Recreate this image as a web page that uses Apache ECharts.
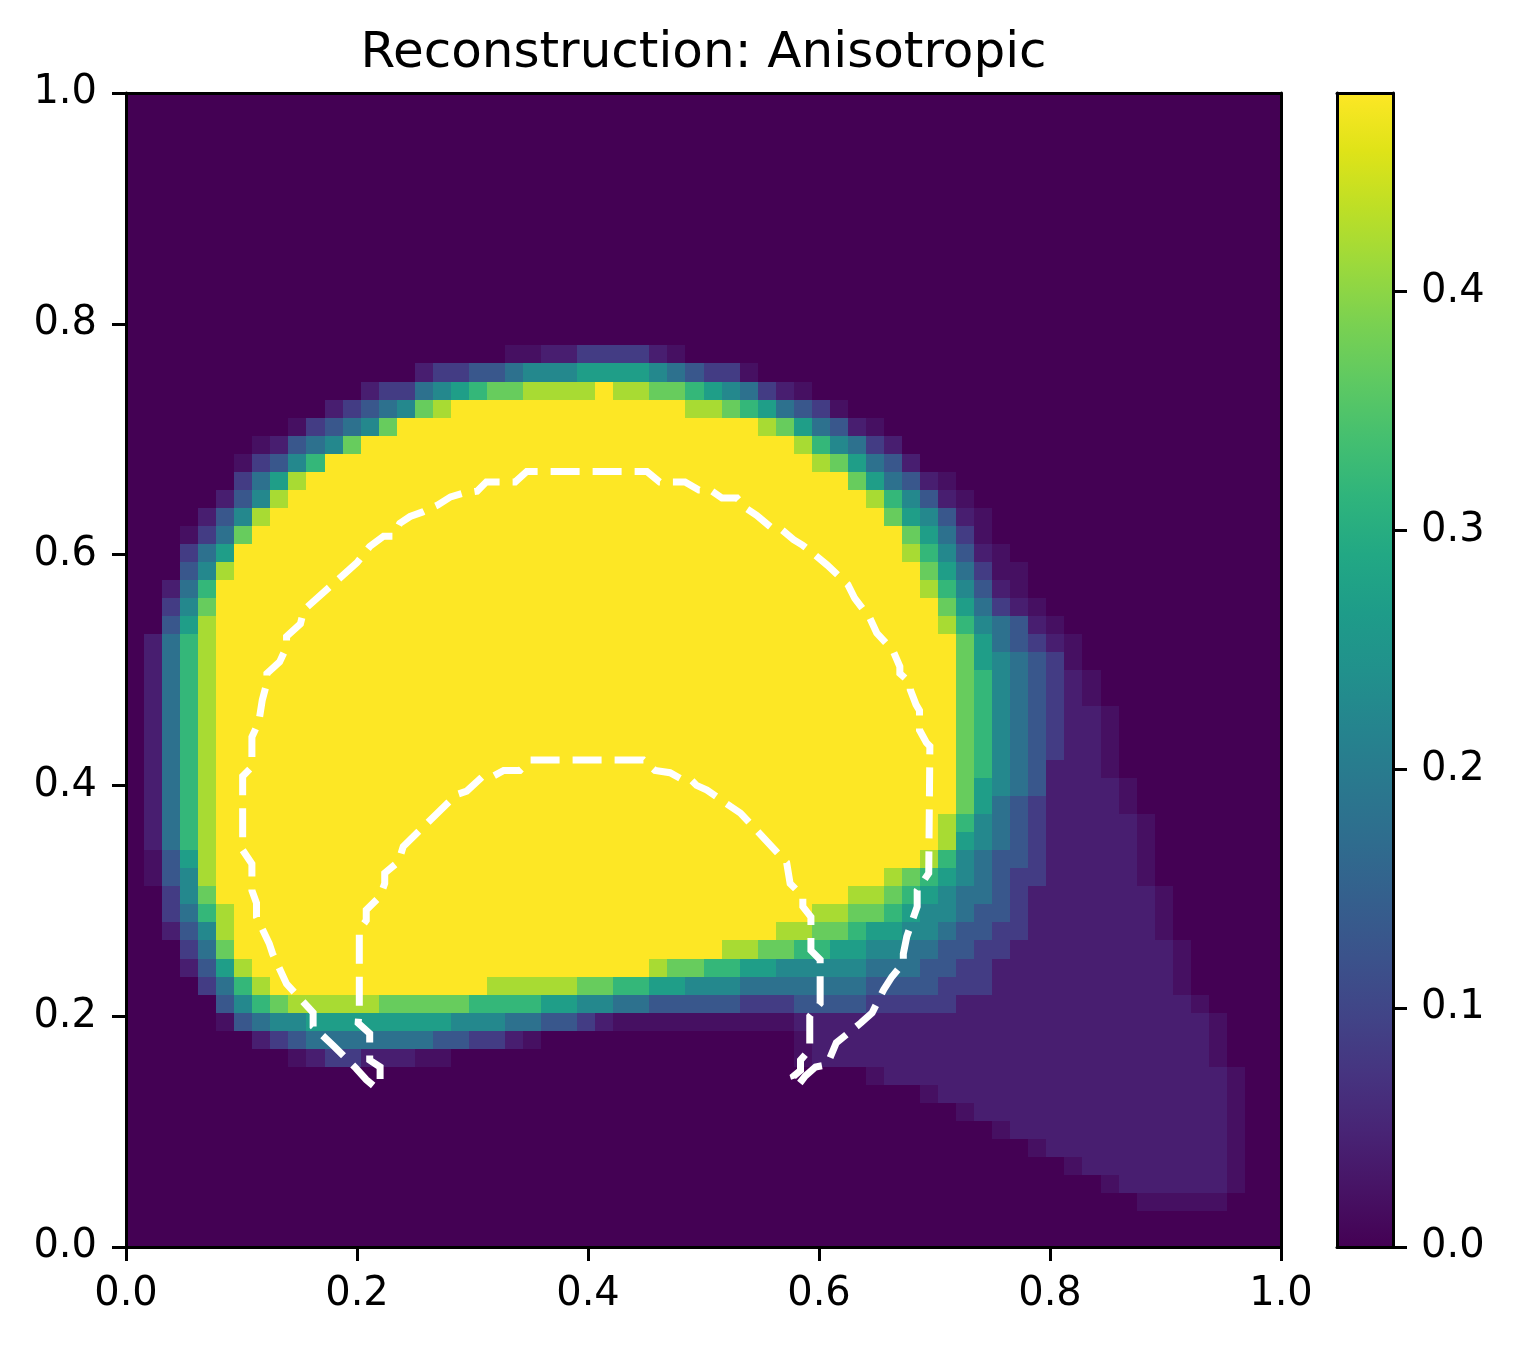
<!DOCTYPE html>
<html><head><meta charset="utf-8">
<script src="https://cdn.jsdelivr.net/npm/echarts@6/dist/echarts.min.js"></script>
<style>html,body{margin:0;padding:0;background:#fff}#c{width:1519px;height:1349px}</style>
</head><body><div id="c"></div>
<script>
const titleText = 'Reconstruction: Anisotropic';
const colorbarTicks = [0, 0.1, 0.2, 0.3, 0.4];
const colorMax = 0.483;
const viridis = ['#440154','#471365','#482475','#463480','#414487','#3b528b','#355f8d','#2f6c8e','#2a788e','#25848e','#21918c','#1e9c89','#22a884','#2fb47c','#44bf70','#5ec962','#7ad151','#9bd93c','#bddf26','#dfe318','#fde725'];

// value levels used in the grid rows (char -> value)
const levelChars  = ['0', 'h',  '1',  '2',   '3',  '4',  '5',   '6',  '7',  '8',  '9',  'A'];
const levelValues = [0,   0.02, 0.04, 0.085, 0.13, 0.18, 0.225, 0.27, 0.32, 0.37, 0.42, 0.483];

// 64 x 64 field, top row first, run-length tokens (char or char*count)
const gridRows = [
'0*64','0*64','0*64','0*64','0*64','0*64','0*64','0*64','0*64','0*64','0*64','0*64','0*64','0*64',
'0*21 h h 1 1 2 2 2 2 1 h 0*33',
'0*16 1 2 2 3 3 4 5 5 5 6 6 6 6 5 4 3 2 2 h 0*29',
'0*13 1 2 2 4 5 6 7 8 8 9 9 9 9 A 9 9 8 8 7 6 5 4 2 1 h 0*26',
'0*11 1 2 3 4 5 8 9 A*13 9 9 8 7 6 4 3 2 h 0*24',
'0*9 h 2 3 4 5 8 A*20 9 8 6 4 3 1 h 0*22',
'0*7 h 1 3 4 5 8 A*24 9 7 5 4 2 1 0*21',
'0*6 h 2 3 5 7 A*27 9 8 6 4 3 1 0*20',
'0*6 2 4 6 9 A*30 8 6 4 3 1 h 0*18',
'0*5 1 3 5 9 A*32 9 7 5 3 1 h 0*17',
'0*4 1 3 5 9 A*34 8 6 5 3 1 h 0*16',
'0*3 h 2 4 8 A*36 8 6 4 2 h 0*16',
'0*3 2 4 6 A*37 9 7 5 3 1 h 0*15',
'0*3 3 5 9 A*38 8 6 4 2 h h 0*14',
'0*2 1 4 7 A*39 9 7 5 3 1 h 0*14',
'0*2 2 5 8 A*40 8 6 4 2 1 h 0*13',
'0*2 3 6 9 A*40 9 7 5 4 3 1 h 0*12',
'0 1 4 7 9 A*41 8 6 4 3 2 1 h 0*11',
'0 1 4 7 9 A*41 8 6 5 4 3 2 h 0*11',
'0 1 4 7 9 A*41 8 7 5 4 3 2 1 h 0*10',
'0 1 4 7 9 A*41 8 7 5 4 3 2 1 h 0*10',
'0 1 4 7 9 A*41 8 7 5 4 3 2 1 1 h 0*9',
'0 1 4 7 9 A*41 8 7 5 4 3 2 1 1 h 0*9',
'0 1 4 7 9 A*41 8 7 5 4 3 2 1 1 h 0*9',
'0 1 4 7 9 A*41 8 7 5 4 3 1 1 1 h 0*9',
'0 1 4 7 9 A*41 8 6 5 4 3 1 1 1 1 h 0*8',
'0 1 4 7 9 A*41 8 6 4 3 2 1 1 1 1 h 0*8',
'0 1 4 7 9 A*40 9 7 5 4 3 2 1 1 1 1 1 h 0*7',
'0 1 4 7 9 A*40 9 6 5 4 3 2 1 1 1 1 1 h 0*7',
'0 h 3 6 9 A*39 9 7 5 4 3 3 2 1 1 1 1 1 h 0*7',
'0 h 3 5 9 A*37 9 8 7 6 5 4 3 2 2 1 1 1 1 1 h 0*7',
'0 0 2 5 8 A*35 9 9 8 7 6 5 4 4 3 2 1 1 1 1 1 1 1 h 0*6',
'0 0 2 4 7 9 A*32 9 9 8 8 7 6 5 5 4 3 3 2 1 1*6 h 0*6',
'0 0 1 3 5 9 A*30 9 9 8 8 7 6 6 5 5 4 3 3 2 2 1*7 h 0*6',
'0*3 2 4 8 A*27 9 9 8 8 7 7 6 6 5 5 4 4 3 3 2 2 1 1*8 h 0*5',
'0*3 1 3 6 9 A*22 9 8 8 7 7 6 6 5 5 5 5 5 4 4 4 3 3 2 2 1 1*9 h 0*5',
'0*4 2 4 7 9 A*12 9 9 9 9 9 8 8 7 7 6 6 5 5 5 4 4 4 4 4 4 4 3 3 3 3 2 2 2 1*10 h 0*5',
'0*5 3 5 7 8 9 9 9 9 9 8 8 8 8 8 7 7 7 7 6 6 5 5 4 4 3 3 3 3 3 2 2 2 3 3 3 3 2 2 2 2 2 1*13 h 0*4',
'0*5 h 3 4 5 5 6*8 5 5 5 4 4 3 3 2 1 h*10 1*23 h 0*3',
'0*7 1 2 3 4 4 4 4 4 4 4 3 3 2 2 1 h 0*14 h 1*22 h 0*3',
'0*9 h 1 2 2 1 1 1 h h 0*19 h 1*22 h 0*3',
'0*41 h 1*19 h 0*2',
'0*44 h 1*16 h 0*2',
'0*46 h 1*14 h 0*2',
'0*48 h 1*12 h 0*2',
'0*50 h 1*10 h 0*2',
'0*52 h 1*8 h 0*2',
'0*54 h 1*6 h 0*2',
'0*56 h*5 0*3',
'0*64','0*64'
];

// white dashed contour (closed horseshoe), data coordinates
const contourX = [0.214,0.208,0.199,0.180,0.162,0.162,0.139,0.127,0.124,0.113,
0.113,0.109,0.109,0.101,0.101,0.109,0.109,0.115,0.118,0.122,
0.122,0.133,0.139,0.139,0.151,0.154,0.200,0.211,0.223,0.231,
0.237,0.246,0.257,0.270,0.281,0.291,0.304,0.312,0.337,0.347,
0.451,0.462,0.484,0.496,0.506,0.516,0.529,0.537,0.546,0.558,
0.566,0.578,0.586,0.595,0.607,0.625,0.631,0.644,0.650,0.664,
0.670,0.670,0.679,0.679,0.684,0.687,0.687,0.693,0.696,0.695,
0.685,0.685,0.676,0.673,0.673,0.663,0.656,0.646,0.636,0.615,
0.607,0.597,0.588,0.581,0.578,0.584,0.584,0.592,0.592,0.601,
0.601,0.593,0.593,0.586,0.586,0.575,0.572,0.532,0.523,0.503,
0.494,0.488,0.480,0.471,0.458,0.448,0.350,0.341,0.327,0.318,
0.309,0.295,0.286,0.240,0.236,0.224,0.224,0.220,0.208,0.208,
0.202,0.202,0.201,0.211,0.211,0.220,0.220,0.214];
const contourY = [0.140,0.145,0.155,0.174,0.191,0.203,0.228,0.254,0.263,0.286,
0.298,0.309,0.332,0.344,0.408,0.416,0.442,0.455,0.474,0.489,
0.497,0.507,0.520,0.529,0.540,0.552,0.593,0.607,0.616,0.616,
0.627,0.633,0.637,0.643,0.650,0.653,0.655,0.663,0.663,0.672,
0.672,0.663,0.663,0.656,0.656,0.649,0.649,0.640,0.634,0.624,
0.623,0.613,0.608,0.601,0.591,0.574,0.562,0.545,0.532,0.517,
0.503,0.497,0.489,0.483,0.470,0.465,0.448,0.437,0.434,0.324,
0.309,0.295,0.269,0.254,0.246,0.234,0.223,0.203,0.194,0.177,
0.158,0.156,0.148,0.139,0.148,0.153,0.162,0.171,0.200,0.211,
0.249,0.257,0.286,0.295,0.304,0.315,0.333,0.376,0.382,0.396,
0.400,0.406,0.406,0.411,0.413,0.422,0.422,0.413,0.413,0.408,
0.408,0.395,0.392,0.347,0.334,0.324,0.315,0.304,0.292,0.283,
0.275,0.208,0.194,0.185,0.162,0.156,0.142,0.140];

// ---- build ----
const nRows = gridRows.length, nCols = 64;
function expandRow(s, r) {
  const out = [];
  s.trim().split(/\s+/).forEach(tok => {
    const parts = tok.split('*');
    const idx = levelChars.indexOf(parts[0]);
    const n = parts.length > 1 ? parseInt(parts[1], 10) : 1;
    for (let k = 0; k < n; k++) out.push(levelValues[idx]);
  });
  if (out.length !== nCols) throw new Error('row ' + r + ' has ' + out.length + ' cells');
  return out;
}
const cellW = 1 / nCols, cellH = 1 / nRows;
const cellData = [];
gridRows.forEach((s, r) => {
  const vals = expandRow(s, r);
  const i = nRows - 1 - r;
  vals.forEach((v, j) => cellData.push([(j + 0.5) * cellW, (i + 0.5) * cellH, v]));
});
const contourData = contourX.map((x, k) => [x, contourY[k]]);

function renderCell(params, api) {
  const x = api.value(0), y = api.value(1);
  const p0 = api.coord([x - cellW / 2, y + cellH / 2]);
  const p1 = api.coord([x + cellW / 2, y - cellH / 2]);
  const x0 = Math.round(p0[0]), y0 = Math.round(p0[1]);
  const x1 = Math.round(p1[0]), y1 = Math.round(p1[1]);
  return {type: 'rect', shape: {x: x0, y: y0, width: x1 - x0, height: y1 - y0},
    style: {fill: api.visual('color')}};
}

const FONT = 'DejaVu Sans';
const lbl = {fontSize: 40, color: '#000', fontFamily: FONT};
const lineOnly = {show: true, onZero: false, lineStyle: {color: '#000', width: 3}};
const tickStyle = {show: true, length: 14, lineStyle: {color: '#000', width: 3}};
const fmt = v => v.toFixed(1);

const chart = echarts.init(document.getElementById('c'), null, {renderer: 'canvas'});
chart.setOption({
  animation: false,
  backgroundColor: '#fff',
  title: {text: titleText, left: 698.5, top: 24, textAlign: 'center',
    textStyle: {fontSize: 50, fontWeight: 'normal', fontFamily: FONT, color: '#000'}},
  grid: [{left: 126, top: 93, width: 1155, height: 1154},
         {left: 1337, top: 93, width: 56, height: 1154}],
  visualMap: {type: 'continuous', show: false, min: 0, max: colorMax, seriesIndex: 0, dimension: 2,
    inRange: {color: viridis}},
  xAxis: [
    {gridIndex: 0, type: 'value', min: 0, max: 1, interval: 0.2, position: 'bottom', z: 10,
      axisLine: lineOnly, axisTick: tickStyle,
      axisLabel: Object.assign({margin: 28, formatter: fmt}, lbl), splitLine: {show: false}},
    {gridIndex: 0, type: 'value', min: 0, max: 1, position: 'top', z: 10,
      axisLine: lineOnly, axisTick: {show: false}, axisLabel: {show: false}, splitLine: {show: false}},
    {gridIndex: 1, type: 'category', data: [''], position: 'bottom', z: 10,
      axisLine: lineOnly, axisTick: {show: false}, axisLabel: {show: false}},
    {gridIndex: 1, type: 'category', data: [''], position: 'top', z: 10,
      axisLine: lineOnly, axisTick: {show: false}, axisLabel: {show: false}}
  ],
  yAxis: [
    {gridIndex: 0, type: 'value', min: 0, max: 1, interval: 0.2, position: 'left', z: 10,
      axisLine: lineOnly, axisTick: tickStyle,
      axisLabel: Object.assign({margin: 29, formatter: fmt}, lbl), splitLine: {show: false}},
    {gridIndex: 0, type: 'value', min: 0, max: 1, position: 'right', z: 10,
      axisLine: lineOnly, axisTick: {show: false}, axisLabel: {show: false}, splitLine: {show: false}},
    {gridIndex: 1, type: 'value', min: 0, max: colorMax, interval: 0.1, position: 'right', z: 10,
      axisLine: lineOnly,
      axisTick: Object.assign({customValues: colorbarTicks}, tickStyle),
      axisLabel: Object.assign({margin: 28, formatter: fmt, customValues: colorbarTicks}, lbl),
      splitLine: {show: false}},
    {gridIndex: 1, type: 'value', min: 0, max: colorMax, position: 'left', z: 10,
      axisLine: lineOnly, axisTick: {show: false}, axisLabel: {show: false}, splitLine: {show: false}}
  ],
  series: [
    {type: 'custom', xAxisIndex: 0, yAxisIndex: 0, data: cellData, renderItem: renderCell,
      encode: {x: 0, y: 1}, progressive: 0, silent: true, z: 1, clip: true},
    {type: 'line', xAxisIndex: 0, yAxisIndex: 0, data: contourData, symbol: 'none', silent: true, z: 5,
      lineStyle: {color: '#ffffff', width: 7, type: [29, 13], cap: 'butt', join: 'miter'}},
    {type: 'bar', xAxisIndex: 2, yAxisIndex: 2, data: [colorMax], barWidth: '100%', silent: true, z: 1,
      itemStyle: {color: new echarts.graphic.LinearGradient(0, 1, 0, 0,
        viridis.map((c, k) => ({offset: k / (viridis.length - 1), color: c})))}}
  ]
});
</script>
</body></html>
